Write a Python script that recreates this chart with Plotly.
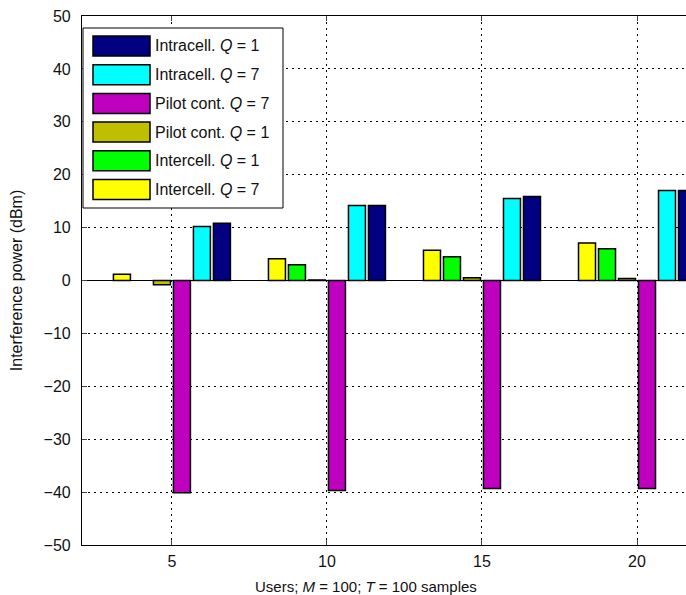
import plotly.graph_objects as go

users = [5, 10, 15, 20]
series_names = ["Intercell. <i>Q</i> = 7", "Intercell. <i>Q</i> = 1", "Pilot cont. <i>Q</i> = 1",
                "Pilot cont. <i>Q</i> = 7", "Intracell. <i>Q</i> = 7", "Intracell. <i>Q</i> = 1"]
intercell_q7 = [1.2, 4.1, 5.7, 7.1]
intercell_q1 = [None, 3.0, 4.5, 6.0]
pilot_q1 = [-0.8, 0.1, 0.5, 0.4]
pilot_q7 = [-40.1, -39.7, -39.3, -39.3]
intracell_q7 = [10.2, 14.2, 15.5, 17.0]
intracell_q1 = [10.8, 14.2, 15.9, 17.0]
series_values = [intercell_q7, intercell_q1, pilot_q1, pilot_q7, intracell_q7, intracell_q1]
colors = ["#FFFF00", "#00FF00", "#BFBF00", "#BF00BF", "#00FFFF", "#000080"]
y_ticks = list(range(-50, 51, 10))
y_tick_text = [("\u2212" + str(-v)) if v < 0 else str(v) for v in y_ticks]
x_title = "Users; <i>M</i> = 100; <i>T</i> = 100 samples"
y_title = "Interference power (dBm)"

W, H = 686, 595
L, R, T, B = 82, 0, 16, 50
PW, PH = W - L - R, H - T - B

def px(x):
    return (x - L) / PW

def py(y):
    return (H - B - y) / PH

fig = go.Figure()
for name, vals, col in zip(series_names, series_values, colors):
    fig.add_trace(go.Bar(x=users, y=vals, name=name, marker_color=col,
                         marker_line_color="black", marker_line_width=1.5,
                         showlegend=False))

font = "Liberation Sans, Arial, sans-serif"
grid_dash = "2px,4px"
fig.update_layout(
    width=W, height=H,
    margin=dict(l=L, r=R, t=T, b=B),
    paper_bgcolor="white", plot_bgcolor="white",
    barmode="group", bargap=0.226, bargroupgap=0.15,
    font=dict(family=font, size=15, color="#111111"),
    xaxis=dict(range=[2.1, 21.58], tickvals=users, ticks="inside", ticklen=5,
               tickfont=dict(size=16), ticklabelstandoff=2,
               showline=True, linecolor="black", linewidth=1.2, mirror="ticks",
               showgrid=True, gridcolor="black", griddash=grid_dash, gridwidth=1,
               zeroline=False),
    yaxis=dict(range=[-50, 50], tickvals=y_ticks, ticktext=y_tick_text, ticks="inside", ticklen=5,
               tickfont=dict(size=16), ticklabelstandoff=7,
               showline=True, linecolor="black", linewidth=1.2, mirror=False,
               showgrid=True, gridcolor="black", griddash=grid_dash, gridwidth=1,
               zeroline=True, zerolinecolor="black", zerolinewidth=1.2,
               title=dict(text=y_title, standoff=16, font=dict(size=16))),
)

# custom legend box
shapes = [dict(type="rect", xref="paper", yref="paper", x0=px(83), x1=px(283), y0=py(208), y1=py(28),
               line=dict(color="black", width=1), fillcolor="white", layer="above")]
annotations = [dict(xref="paper", yref="paper", x=px(366), y=py(586), text=x_title,
                    showarrow=False, xanchor="center", yanchor="middle",
                    font=dict(size=15, family=font, color="#111111"))]
legend_order = list(range(len(series_names)))[::-1]
for i, idx in enumerate(legend_order):
    cy = 46 + i * 28.7
    shapes.append(dict(type="rect", xref="paper", yref="paper", x0=px(93), x1=px(150),
                       y0=py(cy + 10), y1=py(cy - 10), fillcolor=colors[idx],
                       line=dict(color="black", width=1.5), layer="above"))
    annotations.append(dict(xref="paper", yref="paper", x=px(153), y=py(cy), text=series_names[idx],
                            showarrow=False, xanchor="left", yanchor="middle",
                            font=dict(size=16, family=font, color="#111111")))
fig.update_layout(shapes=shapes, annotations=annotations)

fig.write_html("out.html")
